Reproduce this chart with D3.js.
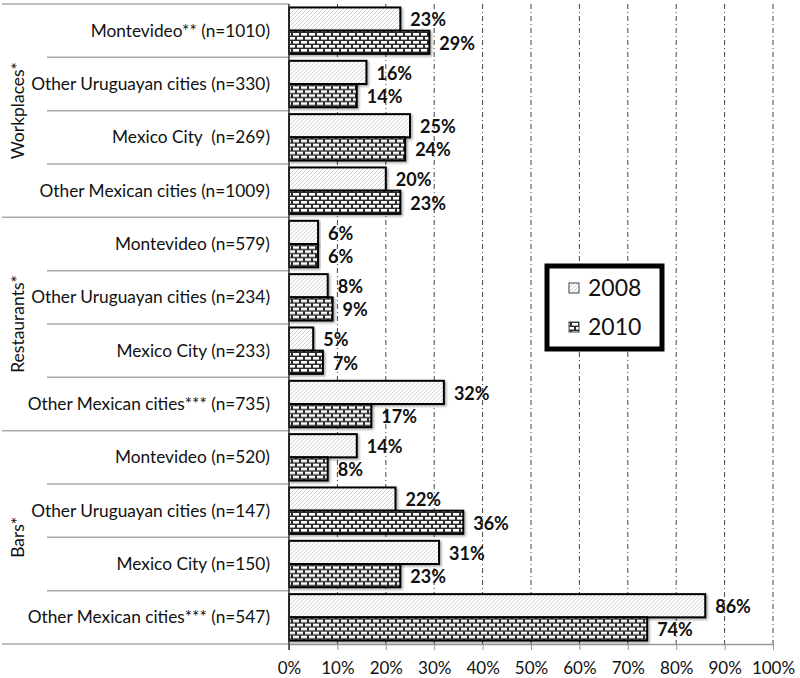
<!DOCTYPE html>
<html><head><meta charset="utf-8">
<script src="https://cdn.jsdelivr.net/npm/d3@7"></script>
<style>
body{margin:0;background:#fff;}
text{font-family:Lato,"Open Sans",sans-serif;white-space:pre;}
</style></head>
<body><svg id="c" width="800" height="678"></svg>
<script>
const groups = ["Workplaces*", "Restaurants*", "Bars*"];
const categories = [
  "Montevideo** (n=1010)", "Other Uruguayan cities (n=330)", "Mexico City  (n=269)", "Other Mexican cities (n=1009)",
  "Montevideo (n=579)", "Other Uruguayan cities (n=234)", "Mexico City (n=233)", "Other Mexican cities*** (n=735)",
  "Montevideo (n=520)", "Other Uruguayan cities (n=147)", "Mexico City (n=150)", "Other Mexican cities*** (n=547)"
];
const categoryGroup = [0,0,0,0,1,1,1,1,2,2,2,2];
const series = ["2008", "2010"];
const values2008 = [23, 16, 25, 20, 6, 8, 5, 32, 14, 22, 31, 86];
const values2010 = [29, 14, 24, 23, 6, 9, 7, 17, 8, 36, 23, 74];
const xTicks = [0,10,20,30,40,50,60,70,80,90,100];

const svg = d3.select("#c");
const defs = svg.append("defs");
const ph = defs.append("pattern").attr("id","hatch").attr("patternUnits","userSpaceOnUse")
  .attr("width",4).attr("height",4);
ph.append("rect").attr("width",4).attr("height",4).attr("fill","#fff");
ph.append("path").attr("d","M-1,1 l2,-2 M0,4 l4,-4 M3,5 l2,-2").attr("stroke","#c0c0c0").attr("stroke-width",0.8);
const pb = defs.append("pattern").attr("id","brick").attr("patternUnits","userSpaceOnUse")
  .attr("width",8).attr("height",8);
pb.append("rect").attr("width",8).attr("height",8).attr("fill","#2a2a2a");
pb.append("rect").attr("x",1).attr("y",1).attr("width",6).attr("height",2.6).attr("fill","#fff");
pb.append("rect").attr("x",-3).attr("y",5).attr("width",6).attr("height",2.6).attr("fill","#fff");
pb.append("rect").attr("x",5).attr("y",5).attr("width",6).attr("height",2.6).attr("fill","#fff");
const f = defs.append("filter").attr("id","sh").attr("x","-5%").attr("y","-20%").attr("width","115%").attr("height","150%");
f.append("feDropShadow").attr("dx",1.5).attr("dy",1.5).attr("stdDeviation",1).attr("flood-color","#000").attr("flood-opacity",0.35);

const x = d3.scaleLinear().domain([0,100]).range([289,773]);
const y = d3.scaleBand().domain(d3.range(categories.length)).range([4,644]).padding(0);
const ys = d3.scaleBand().domain(series).range([0,y.bandwidth()]).paddingInner(0).paddingOuter(0.15);
const fills = {"2008":"url(#hatch)","2010":"url(#brick)"};

// grid lines
svg.append("g").selectAll("line").data(xTicks.slice(1)).join("line")
  .attr("x1",d=>x(d)).attr("x2",d=>x(d)).attr("y1",4).attr("y2",644)
  .attr("stroke","#444").attr("stroke-width",1).attr("stroke-dasharray","5,3,1,3");

// x axis
const xa = svg.append("g").attr("transform","translate(0,644)")
  .call(d3.axisBottom(x).tickValues(xTicks).tickFormat(d=>d+"%").tickSize(6).tickSizeOuter(0));
xa.select(".domain").attr("stroke","#999").attr("stroke-width",1.5);
xa.selectAll(".tick line").attr("stroke","#999");
xa.selectAll(".tick text").attr("font-size",17).attr("fill","#111").attr("y",24).attr("dy","0.35em").attr("font-family","Lato");

// row separator lines
svg.append("g").selectAll("line").data(d3.range(categories.length+1)).join("line")
  .attr("x1",d=> (d%4===0) ? 2 : 47).attr("x2",289)
  .attr("y1",d=> d<categories.length ? y(d) : 644).attr("y2",d=> d<categories.length ? y(d) : 644)
  .attr("stroke","#aaa").attr("stroke-width",1.5);

// bars
const rows = svg.append("g").selectAll("g").data(categories).join("g")
  .attr("transform",(d,i)=>`translate(0,${y(i)})`);
const barData = (i)=>[{s:"2008",v:values2008[i]},{s:"2010",v:values2010[i]}];
rows.each(function(c,i){
  const g = d3.select(this);
  g.selectAll("rect").data(barData(i)).join("rect")
    .attr("x",x(0)).attr("y",d=>ys(d.s)).attr("width",d=>x(d.v)-x(0)).attr("height",ys.bandwidth())
    .attr("fill",d=>fills[d.s]).attr("stroke","#000").attr("stroke-width",2).attr("filter","url(#sh)");
  g.selectAll("text.v").data(barData(i)).join("text").attr("class","v")
    .attr("x",d=>x(d.v)+10).attr("y",d=>ys(d.s)+ys.bandwidth()/2 + 1)
    .attr("dy","0.35em").attr("font-size",18).attr("font-weight","bold").attr("fill","#111")
    .text(d=>d.v+"%");
  g.append("text").attr("x",270).attr("y",y.bandwidth()/2).attr("dy","0.35em")
    .attr("text-anchor","end").attr("font-size",17.3).attr("fill","#111").text(c);
});

// axis spine
svg.append("line").attr("x1",289).attr("x2",289).attr("y1",4).attr("y2",650).attr("stroke","#333").attr("stroke-width",1.5);

// group labels
svg.append("g").selectAll("text").data(groups).join("text")
  .attr("transform",(d,gi)=>{
    const idx = categoryGroup.map((g,i)=>g===gi?i:-1).filter(i=>i>=0);
    const cy = (y(idx[0]) + y(idx[idx.length-1]) + y.bandwidth())/2;
    return `translate(18,${cy}) rotate(-90)`;
  })
  .attr("text-anchor","middle").attr("dy","0.35em").attr("font-size",17.5).attr("fill","#111").text(d=>d);

// legend
const lg = svg.append("g").attr("transform","translate(547,266)");
lg.append("rect").attr("width",115).attr("height",83).attr("fill","#fff").attr("stroke","#000").attr("stroke-width",5);
series.forEach((s,i)=>{
  const yy = 22 + i*39;
  lg.append("rect").attr("x",22).attr("y",yy-5).attr("width",10).attr("height",10)
    .attr("fill",fills[s]).attr("stroke","#444").attr("stroke-width",1);
  lg.append("text").attr("x",41).attr("y",yy).attr("dy","0.35em").attr("font-size",23).attr("fill","#111").text(s);
});
</script></body></html>
